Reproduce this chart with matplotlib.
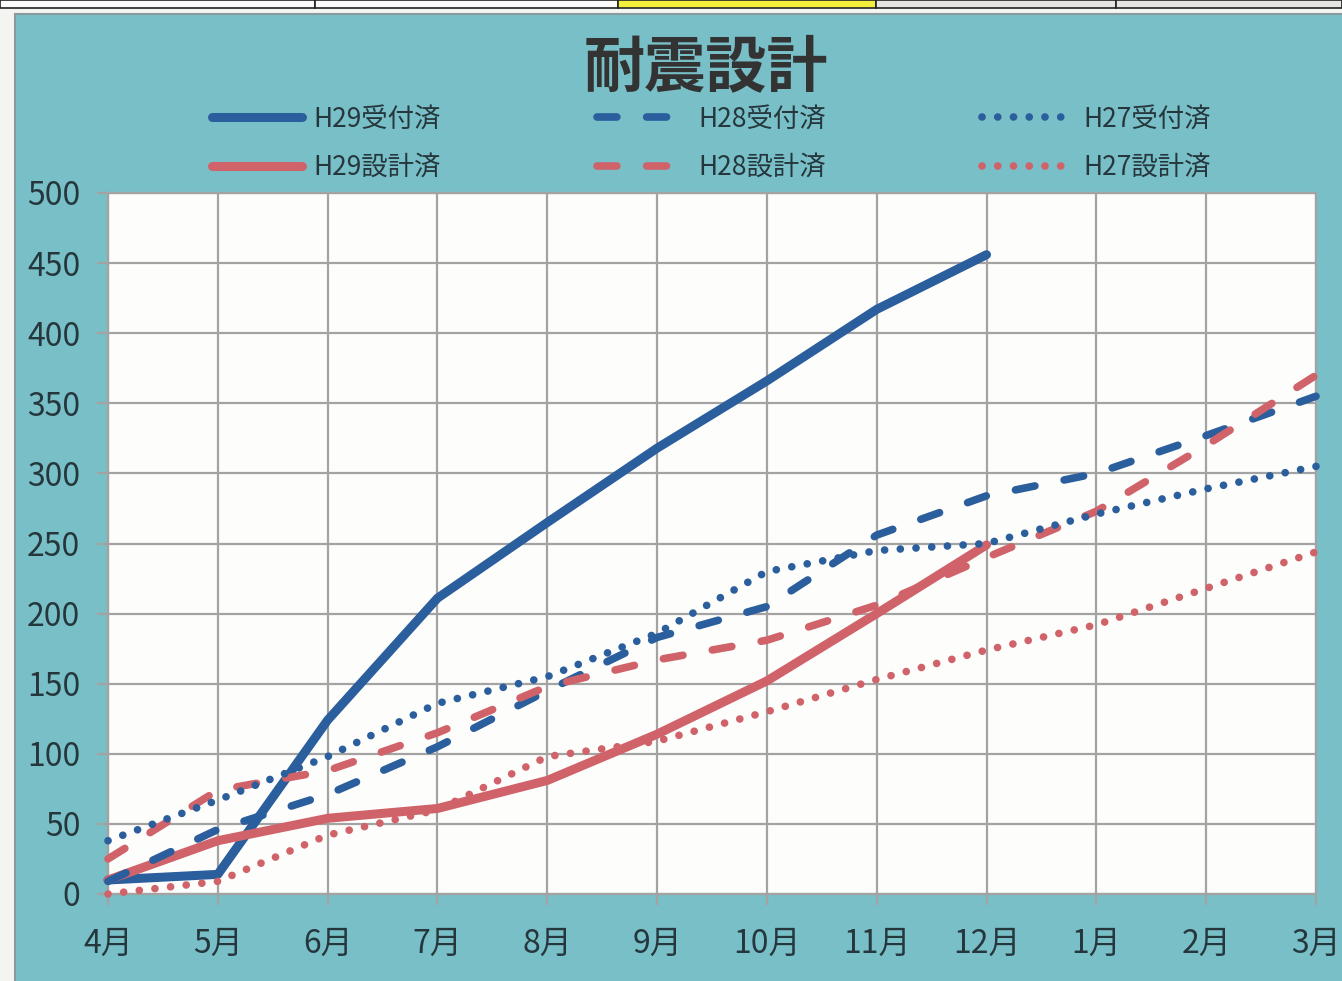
import matplotlib
matplotlib.use('Agg')
import matplotlib.pyplot as plt
from matplotlib.patches import Rectangle
import numpy as np

plt.rcParams['font.family'] = ['Noto Sans CJK JP', 'DejaVu Sans']

months = ['4月', '5月', '6月', '7月', '8月', '9月', '10月', '11月', '12月', '1月', '2月', '3月']
nan = np.nan
h29_uketsuke = [10, 14, 124, 211, 265, 318, 366, 417, 456, nan, nan, nan]
h29_sekkei   = [10, 38, 54, 61, 81, 114, 152, 200, 249, nan, nan, nan]
h28_uketsuke = [9, 46, 71, 105, 145, 183, 205, 256, 284, 300, 327, 355]
h28_sekkei   = [25, 74, 88, 115, 148, 167, 181, 206, 240, 273, 320, 370]
h27_uketsuke = [38, 67, 98, 136, 155, 186, 230, 245, 250, 271, 289, 305]
h27_sekkei   = [0, 9, 42, 60, 98, 109, 130, 153, 174, 192, 218, 244]

BLUE = '#2b5e9c'
RED = '#d0636a'
TEAL = '#79bfc7'
TXT = '#25373c'

fig = plt.figure(figsize=(13.42, 9.81), dpi=100)
fig.patch.set_facecolor('#f4f4f1')

W, H = 1342, 981
# table strip at the top
cells = [(0, 315, '#fbfbfb'), (315, 618, '#fbfbfb'), (618, 876, '#f3ee3a'),
         (876, 1116, '#e4e4e2'), (1116, 1342, '#e4e4e2')]
for x0, x1, c in cells:
    fig.patches.append(Rectangle((x0 / W, 1 - 8 / H), (x1 - x0) / W, 8 / H,
                                 transform=fig.transFigure, facecolor=c,
                                 edgecolor='#222222', lw=1.2, zorder=-10))
# teal panel
fig.patches.append(Rectangle((15 / W, -0.01), 1, 1 - 14 / H + 0.01,
                             transform=fig.transFigure, facecolor=TEAL,
                             edgecolor='#8a9a9c', lw=1.5, zorder=-10))

ax = fig.add_axes([108 / W, 1 - 894 / H, (1316 - 108) / W, (894 - 193) / H])
ax.set_facecolor('#fdfdfb')
x = np.arange(len(months))

dash = (0, (2.6, 3.9))
dot = (0, (0.01, 2.05))
series = [
    (h29_uketsuke, 'H29受付済', BLUE, '-', 6.5),
    (h29_sekkei, 'H29設計済', RED, '-', 6.5),
    (h28_uketsuke, 'H28受付済', BLUE, dash, 5.5),
    (h28_sekkei, 'H28設計済', RED, dash, 5.5),
    (h27_uketsuke, 'H27受付済', BLUE, dot, 5.5),
    (h27_sekkei, 'H27設計済', RED, dot, 5.5),
]
handles = []
for vals, lab, col, ls, lw in series:
    l, = ax.plot(x, vals, color=col, lw=lw, ls=ls,
                 label=lab, solid_capstyle='round', dash_capstyle='round',
                 solid_joinstyle='round', clip_on=False, zorder=3)
    handles.append(l)

ax.set_xlim(0, 11)
ax.set_ylim(0, 500)
ax.set_xticks(x)
ax.set_xticklabels(months)
ax.set_yticks(np.arange(0, 501, 50))
ax.grid(True, color='#a3a3a3', lw=1.6, zorder=1)
ax.set_axisbelow(True)
for s in ax.spines.values():
    s.set_color('#a3a3a3')
    s.set_linewidth(1.6)
ax.tick_params(axis='both', colors='#a3a3a3', length=8, width=1.6,
               labelcolor=TXT, labelsize=23)
ax.tick_params(axis='y', pad=12)
ax.tick_params(axis='x', pad=16)

fig.text(0.526, 0.93, '耐震設計', ha='center', va='center', fontsize=44,
         fontweight='bold', color='#333333')

leg = fig.legend(handles=handles, ncol=3, loc='center',
                 bbox_to_anchor=(0.530, 0.854), frameon=False, fontsize=19,
                 handlelength=3.4, handletextpad=0.45, columnspacing=5.9,
                 labelspacing=0.8, labelcolor=TXT)

fig.savefig('out.png', dpi=100, facecolor=fig.get_facecolor())
